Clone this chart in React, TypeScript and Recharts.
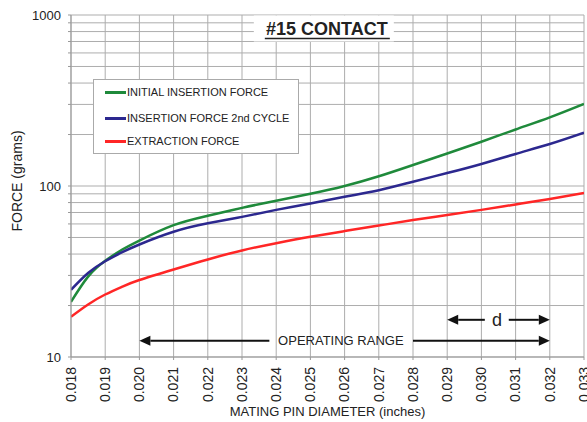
import React from 'react';
import {
  LineChart, Line, XAxis, YAxis, CartesianGrid, Legend, ReferenceLine, ReferenceDot,
} from 'recharts';

const diameters = [0.018, 0.0185, 0.019, 0.0195, 0.02, 0.021, 0.022, 0.023, 0.024, 0.025, 0.026, 0.027, 0.028, 0.029, 0.03, 0.031, 0.032, 0.033];
const initialInsertion = [21, 29.5, 36.5, 42.5, 48, 59, 67, 74.5, 82, 90, 100, 114, 132.7, 155, 181.5, 214, 252, 302];
const insertion2nd = [24.7, 31, 36.3, 41, 45.5, 54, 60.5, 66, 72.5, 79, 86.5, 94.5, 106, 119, 134.5, 154, 176, 205];
const extraction = [17.2, 20.3, 23.2, 25.8, 28.2, 32.5, 37.2, 42, 46.3, 50.5, 54.5, 58.7, 63.2, 67.6, 72.5, 78, 84, 91];

const xTicks = [0.018, 0.019, 0.02, 0.021, 0.022, 0.023, 0.024, 0.025, 0.026, 0.027, 0.028, 0.029, 0.03, 0.031, 0.032, 0.033];
const yTicks = [10, 20, 30, 40, 50, 60, 70, 80, 90, 100, 200, 300, 400, 500, 600, 700, 800, 900, 1000];
const yLabelTicks = [10, 100, 1000];

const seriesNames = ['INITIAL INSERTION FORCE', 'INSERTION FORCE 2nd CYCLE', 'EXTRACTION FORCE'];
const seriesColors = ['#1f8a3b', '#2c288f', '#ff2626'];

const titleText = '#15 CONTACT';
const titlePos = { x: 0.02548, y: 834 };
const rangeArrows = [
  { from: { x: 0.0238, y: 12.45 }, to: { x: 0.02, y: 12.45 } },
  { from: { x: 0.028, y: 12.45 }, to: { x: 0.032, y: 12.45 } },
];
const dArrows = [
  { from: { x: 0.0301, y: 16.5 }, to: { x: 0.029, y: 16.5 } },
  { from: { x: 0.0308, y: 16.5 }, to: { x: 0.032, y: 16.5 } },
];
const rangeLabel = { x: 0.02589, y: 12.45, text: 'OPERATING RANGE' };
const dLabel = { x: 0.03046, y: 16.5, text: 'd' };

const data = diameters.map((d, i) => ({
  d,
  a: initialInsertion[i],
  b: insertion2nd[i],
  c: extraction[i],
}));

const FONT = '"Liberation Sans", Arial, Helvetica, sans-serif';

const XTick = (props: any) => {
  const { x, y, payload } = props;
  const ty = y + 5;
  return (
    <text
      x={x}
      y={ty}
      transform={`rotate(-90 ${x} ${ty})`}
      textAnchor="end"
      dy="0.35em"
      fontSize={14}
      fontFamily={FONT}
      fill="#222"
    >
      {Number(payload.value).toFixed(3)}
    </text>
  );
};

const YTick = (props: any) => {
  const { x, y, payload } = props;
  if (!yLabelTicks.includes(payload.value)) return null;
  return (
    <text x={x} y={y} textAnchor="end" dy="0.35em" fontSize={13} fontFamily={FONT} fill="#222">
      {payload.value}
    </text>
  );
};

const ArrowShape = (props: any) => {
  const { x1, y1, x2, y2 } = props;
  const ang = Math.atan2(y2 - y1, x2 - x1);
  const L = 11;
  const W = 5;
  const bx = x2 - L * Math.cos(ang);
  const by = y2 - L * Math.sin(ang);
  const px = -Math.sin(ang) * W;
  const py = Math.cos(ang) * W;
  return (
    <g>
      <line x1={x1} y1={y1} x2={bx} y2={by} stroke="#111" strokeWidth={2} />
      <polygon points={`${x2},${y2} ${bx + px},${by + py} ${bx - px},${by - py}`} fill="#111" />
    </g>
  );
};

const TitleLabel = (props: any) => {
  const { viewBox } = props;
  const cx = viewBox.x + (viewBox.width || 0) / 2;
  const cy = viewBox.y + (viewBox.height || 0) / 2;
  return (
    <g>
      <rect x={cx - 73} y={cy - 13} width={140} height={26} fill="#fff" />
      <text x={cx} y={cy + 7} textAnchor="middle" fontSize={18} fontWeight="bold" fontFamily={FONT} fill="#222">
        {titleText}
      </text>
      <line x1={cx - 62} y1={cy + 10} x2={cx + 63} y2={cy + 10} stroke="#222" strokeWidth={1.5} />
    </g>
  );
};

const LegendBox = () => (
  <div
    style={{
      width: 204,
      height: 73,
      border: '1px solid #aaa',
      background: '#fff',
      boxSizing: 'content-box',
      fontFamily: FONT,
      fontSize: 11,
      color: '#222',
      position: 'relative',
    }}
  >
    {seriesNames.map((n, i) => (
      <div
        key={n}
        style={{
          position: 'absolute',
          left: 11,
          top: [4, 30, 53][i],
          height: 16,
          display: 'flex',
          alignItems: 'center',
          whiteSpace: 'nowrap',
        }}
      >
        <span style={{ display: 'inline-block', width: 21, height: 3, background: seriesColors[i], marginRight: 1 }} />
        <span>{n}</span>
      </div>
    ))}
  </div>
);

export default function App() {
  return (
    <div style={{ position: 'absolute', left: 0, top: 0, background: '#fff' }}>
      <LineChart width={587} height={422} data={data} margin={{ top: 15, right: 3, left: 0, bottom: 0 }}>
        <CartesianGrid stroke="#adadad" strokeWidth={1} />
        <XAxis
          dataKey="d"
          type="number"
          domain={[0.018, 0.033]}
          ticks={xTicks}
          interval={0}
          allowDataOverflow
          height={65}
          tickSize={3}
          tickMargin={2}
          stroke="#999"
          tick={<XTick />}
          label={{
            value: 'MATING PIN  DIAMETER (inches)',
            position: 'insideBottom',
            offset: 6,
            style: { fontSize: 13, fontFamily: FONT, fill: '#222' },
          }}
        />
        <YAxis
          type="number"
          scale="log"
          domain={[10, 1000]}
          ticks={yTicks}
          interval={0}
          allowDataOverflow
          width={71}
          tickSize={3}
          tickMargin={7}
          stroke="#999"
          tick={<YTick />}
          label={{
            value: 'FORCE (grams)',
            angle: -90,
            position: 'insideLeft',
            offset: 17,
            dy: -5,
            style: { fontSize: 14, fontFamily: FONT, fill: '#222', textAnchor: 'middle' },
          }}
        />
        <ReferenceDot x={titlePos.x} y={titlePos.y} r={0} fill="none" stroke="none" label={<TitleLabel />} />
        {rangeArrows.concat(dArrows).map((a, i) => (
          <ReferenceLine key={i} segment={[a.from, a.to]} shape={<ArrowShape />} />
        ))}
        <ReferenceDot
          x={rangeLabel.x}
          y={rangeLabel.y}
          r={0}
          fill="none"
          stroke="none"
          label={{ value: rangeLabel.text, position: 'center', style: { fontSize: 13, fontFamily: FONT, fill: '#222' } }}
        />
        <ReferenceDot
          x={dLabel.x}
          y={dLabel.y}
          r={0}
          fill="none"
          stroke="none"
          label={{ value: dLabel.text, position: 'center', style: { fontSize: 18, fontFamily: FONT, fill: '#222' } }}
        />
        <Line type="natural" dataKey="a" name={seriesNames[0]} stroke={seriesColors[0]} strokeWidth={2.5} dot={false} isAnimationActive={false} />
        <Line type="natural" dataKey="b" name={seriesNames[1]} stroke={seriesColors[1]} strokeWidth={2.5} dot={false} isAnimationActive={false} />
        <Line type="natural" dataKey="c" name={seriesNames[2]} stroke={seriesColors[2]} strokeWidth={2.5} dot={false} isAnimationActive={false} />
        <Legend
          layout="vertical"
          align="center"
          verticalAlign="middle"
          content={<LegendBox />}
          wrapperStyle={{ left: 93, top: 79, width: 206, height: 75 }}
        />
      </LineChart>
    </div>
  );
}
